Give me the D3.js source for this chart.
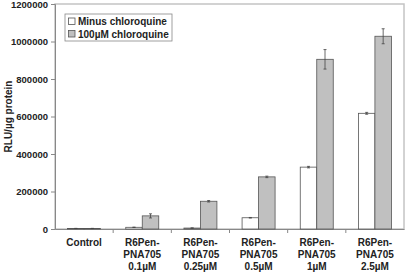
<!DOCTYPE html>
<html>
<head>
<meta charset="utf-8">
<script src="https://cdn.jsdelivr.net/npm/d3@7"></script>
<style>
  body { margin: 0; background: #fff; }
  svg text { font-family: "Liberation Sans", Arial, sans-serif; font-weight: bold; fill: #222; }
</style>
</head>
<body>
<div id="chart"></div>
<script>
const categories = ["Control", "R6Pen-\nPNA705\n0.1µM", "R6Pen-\nPNA705\n0.25µM", "R6Pen-\nPNA705\n0.5µM", "R6Pen-\nPNA705\n1µM", "R6Pen-\nPNA705\n2.5µM"];
const seriesNames = ["Minus chloroquine", "100µM chloroquine"];
const minusValues = [3000, 9000, 5000, 60000, 330000, 617000];
const minusErrors = [500, 1000, 800, 1500, 4000, 5000];
const plusValues = [3000, 70000, 148000, 278000, 905000, 1028000];
const plusErrors = [500, 11000, 4000, 4000, 52000, 40000];
const yTicks = [0, 200000, 400000, 600000, 800000, 1000000, 1200000];

const W = 406, H = 273;
const margin = { top: 4, right: 2, bottom: 44, left: 55 };
const width = W - margin.left - margin.right;
const height = H - margin.top - margin.bottom;

const svg = d3.select("#chart").append("svg")
    .attr("width", W)
    .attr("height", H);

const g = svg.append("g")
    .attr("transform", "translate(" + margin.left + "," + margin.top + ")");

const x = d3.scaleBand().domain(categories).range([0, width]).padding(0);
const y = d3.scaleLinear().domain([0, 1200000]).range([height, 0]);
const barW = 16.5;

// plot border
g.append("rect")
    .attr("width", width).attr("height", height)
    .attr("fill", "none").attr("stroke", "#c4c4c4").attr("stroke-width", 1.5);

// y axis
const yAxis = g.append("g")
    .call(d3.axisLeft(y).tickValues(yTicks).tickSize(4).tickPadding(3).tickFormat(d3.format("d")));
yAxis.select(".domain").attr("stroke", "#888");
yAxis.selectAll(".tick line").attr("stroke", "#888");
yAxis.selectAll("text").style("font-size", "9.5px");

// x axis
const xAxis = g.append("g")
    .attr("transform", "translate(0," + height + ")")
    .call(d3.axisBottom(x).tickSize(0).tickFormat(""));
xAxis.select(".domain").attr("stroke", "#888");
xAxis.selectAll(".tick").remove();
xAxis.selectAll(".sep")
    .data(categories.slice(1))
    .enter().append("line")
    .attr("x1", d => x(d)).attr("x2", d => x(d))
    .attr("y1", 0).attr("y2", 4)
    .attr("stroke", "#888");

// category labels
categories.forEach(c => {
    const lines = c.split("\n");
    const t = g.append("text")
        .attr("x", x(c) + x.bandwidth() / 2)
        .attr("y", height + 17)
        .attr("text-anchor", "middle")
        .style("font-size", "10px");
    lines.forEach((l, i) => {
        t.append("tspan")
            .attr("x", x(c) + x.bandwidth() / 2)
            .attr("dy", i === 0 ? 0 : 12)
            .text(l);
    });
});

// y label
svg.append("text")
    .attr("transform", "rotate(-90)")
    .attr("x", -(margin.top + height / 2))
    .attr("y", 12)
    .attr("text-anchor", "middle")
    .style("font-size", "10px")
    .text("RLU/µg protein");

// bars
const series = [
    { values: minusValues, errors: minusErrors, fill: "#ffffff", offset: -barW },
    { values: plusValues, errors: plusErrors, fill: "#c0c0c0", offset: 0 }
];

series.forEach(s => {
    const grp = g.append("g");
    grp.selectAll("rect")
        .data(categories)
        .enter().append("rect")
        .attr("x", (d, i) => x(d) + x.bandwidth() / 2 + s.offset)
        .attr("y", (d, i) => y(s.values[i]))
        .attr("width", barW)
        .attr("height", (d, i) => height - y(s.values[i]))
        .attr("fill", s.fill)
        .attr("stroke", "#555")
        .attr("stroke-width", 0.8);

    categories.forEach((d, i) => {
        const cx = x(d) + x.bandwidth() / 2 + s.offset + barW / 2;
        const hi = y(s.values[i] + s.errors[i]);
        const lo = y(s.values[i] - s.errors[i]);
        grp.append("line")
            .attr("x1", cx).attr("x2", cx).attr("y1", hi).attr("y2", lo)
            .attr("stroke", "#444").attr("stroke-width", 0.8);
        [hi, lo].forEach(yy => {
            grp.append("line")
                .attr("x1", cx - 1.5).attr("x2", cx + 1.5).attr("y1", yy).attr("y2", yy)
                .attr("stroke", "#444").attr("stroke-width", 0.8);
        });
    });
});

// legend
const legend = g.append("g").attr("transform", "translate(10,10)");
legend.append("rect")
    .attr("width", 107).attr("height", 27)
    .attr("fill", "#fff").attr("stroke", "#888").attr("stroke-width", 0.8);
seriesNames.forEach((name, i) => {
    legend.append("rect")
        .attr("x", 3.5).attr("y", 4 + i * 12.5)
        .attr("width", 6.5).attr("height", 6.5)
        .attr("fill", series[i].fill)
        .attr("stroke", "#555").attr("stroke-width", 0.8);
    legend.append("text")
        .attr("x", 13).attr("y", 11 + i * 12.5)
        .style("font-size", "10px")
        .text(name);
});
</script>
</body>
</html>
